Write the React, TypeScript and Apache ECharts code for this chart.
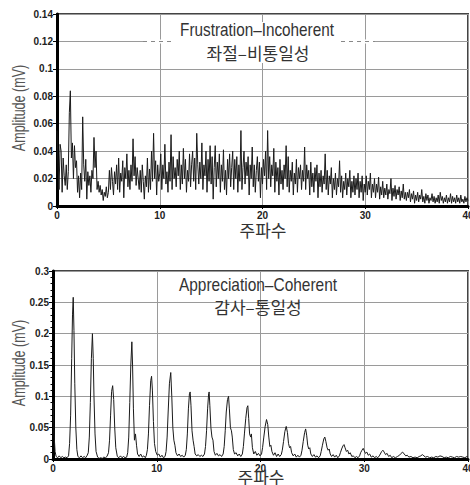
import React, { useEffect, useRef } from "react";
import * as echarts from "echarts";

// Top panel: amplitude sampled every 0.1 Hz from 0 to 40
const TOP_STEP = 0.1;
const topAmplitude = [
  0.055, 0.030, 0.012, 0.045, 0.040, 0.010, 0.035, 0.022, 0.015, 0.030,
  0.012, 0.025, 0.068, 0.084, 0.035, 0.046, 0.020, 0.044, 0.028, 0.033,
  0.010, 0.022, 0.006, 0.024, 0.012, 0.065, 0.030, 0.018, 0.034, 0.005,
  0.025, 0.015, 0.022, 0.010, 0.026, 0.020, 0.050, 0.028, 0.040, 0.012,
  0.018, 0.010, 0.015, 0.008, 0.012, 0.004, 0.010, 0.007, 0.014, 0.006,
  0.010, 0.026, 0.012, 0.028, 0.018, 0.008, 0.025, 0.016, 0.030, 0.012,
  0.035, 0.010, 0.024, 0.018, 0.033, 0.006, 0.028, 0.020, 0.038, 0.014,
  0.026, 0.012, 0.030, 0.018, 0.049, 0.022, 0.036, 0.015, 0.028, 0.020,
  0.012, 0.026, 0.010, 0.030, 0.018, 0.005, 0.022, 0.014, 0.035, 0.010,
  0.027, 0.012, 0.040, 0.018, 0.053, 0.020, 0.033, 0.008, 0.030, 0.018,
  0.024, 0.038, 0.012, 0.030, 0.020, 0.045, 0.016, 0.025, 0.010, 0.032,
  0.018, 0.052, 0.012, 0.036, 0.020, 0.028, 0.014, 0.034, 0.022, 0.040,
  0.012, 0.030, 0.016, 0.042, 0.020, 0.034, 0.010, 0.026, 0.018, 0.038,
  0.014, 0.030, 0.040, 0.018, 0.035, 0.012, 0.053, 0.030, 0.016, 0.032,
  0.020, 0.046, 0.012, 0.030, 0.022, 0.040, 0.010, 0.034, 0.018, 0.044,
  0.016, 0.036, 0.005, 0.028, 0.044, 0.014, 0.032, 0.020, 0.038, 0.010,
  0.030, 0.018, 0.041, 0.012, 0.026, 0.008, 0.034, 0.020, 0.038, 0.014,
  0.028, 0.040, 0.012, 0.034, 0.020, 0.036, 0.010, 0.030, 0.018, 0.055,
  0.012, 0.028, 0.040, 0.016, 0.032, 0.022, 0.036, 0.008, 0.030, 0.020,
  0.043, 0.014, 0.030, 0.010, 0.026, 0.036, 0.018, 0.032, 0.006, 0.028,
  0.016, 0.034, 0.022, 0.040, 0.012, 0.055, 0.020, 0.036, 0.014, 0.030,
  0.022, 0.042, 0.010, 0.032, 0.018, 0.028, 0.008, 0.034, 0.016, 0.026,
  0.012, 0.030, 0.020, 0.044, 0.014, 0.036, 0.010, 0.026, 0.018, 0.032,
  0.008, 0.024, 0.016, 0.034, 0.010, 0.028, 0.020, 0.030, 0.012, 0.026,
  0.018, 0.043, 0.012, 0.030, 0.020, 0.026, 0.008, 0.032, 0.014, 0.024,
  0.010, 0.028, 0.018, 0.030, 0.006, 0.024, 0.014, 0.026, 0.010, 0.022,
  0.016, 0.038, 0.012, 0.026, 0.008, 0.022, 0.016, 0.028, 0.006, 0.020,
  0.012, 0.024, 0.008, 0.020, 0.014, 0.033, 0.010, 0.022, 0.006, 0.018,
  0.012, 0.024, 0.008, 0.020, 0.014, 0.026, 0.006, 0.018, 0.010, 0.022,
  0.008, 0.020, 0.012, 0.024, 0.006, 0.018, 0.010, 0.022, 0.004, 0.016,
  0.010, 0.022, 0.008, 0.018, 0.012, 0.024, 0.006, 0.016, 0.010, 0.020,
  0.006, 0.016, 0.010, 0.021, 0.005, 0.014, 0.008, 0.018, 0.006, 0.013,
  0.008, 0.016, 0.005, 0.012, 0.009, 0.020, 0.004, 0.013, 0.007, 0.015,
  0.005, 0.012, 0.008, 0.014, 0.004, 0.011, 0.006, 0.016, 0.005, 0.010,
  0.004, 0.010, 0.006, 0.012, 0.003, 0.009, 0.005, 0.011, 0.002, 0.008,
  0.004, 0.010, 0.003, 0.008, 0.005, 0.012, 0.003, 0.007, 0.002, 0.009,
  0.004, 0.008, 0.002, 0.006, 0.004, 0.009, 0.003, 0.007, 0.002, 0.006,
  0.003, 0.008, 0.002, 0.010, 0.004, 0.007, 0.002, 0.006, 0.003, 0.008,
  0.002, 0.006, 0.003, 0.009, 0.002, 0.007, 0.003, 0.006, 0.002, 0.008,
  0.003, 0.006, 0.002, 0.008, 0.003, 0.005, 0.002, 0.007, 0.003, 0.006,
  0.004,
];

// Bottom panel: [frequency, amplitude] points
const bottomPoints: [number, number][] = [
  [0.0, 0.090], [0.05, 0.070], [0.1, 0.040], [0.2, 0.012], [0.3, 0.004], [0.45, 0.002],
  [0.6, 0.005], [0.75, 0.002], [0.9, 0.004], [1.05, 0.002], [1.2, 0.003], [1.35, 0.002],
  [1.5, 0.005], [1.6, 0.025], [1.7, 0.070], [1.8, 0.160], [1.88, 0.230], [1.95, 0.258],
  [2.02, 0.205], [2.1, 0.120], [2.2, 0.050], [2.3, 0.015], [2.4, 0.004], [2.55, 0.002],
  [2.7, 0.005], [2.85, 0.002], [3.0, 0.004], [3.15, 0.002], [3.3, 0.006],
  [3.4, 0.010], [3.5, 0.035], [3.6, 0.090], [3.7, 0.160], [3.8, 0.200], [3.88, 0.160],
  [3.95, 0.100], [4.05, 0.040], [4.15, 0.012], [4.3, 0.003], [4.45, 0.001], [4.6, 0.002],
  [4.75, 0.001], [4.9, 0.003], [5.05, 0.002], [5.2, 0.004],
  [5.35, 0.010], [5.45, 0.030], [5.55, 0.070], [5.65, 0.108], [5.75, 0.117], [5.85, 0.095],
  [5.95, 0.050], [6.05, 0.018], [6.2, 0.004], [6.35, 0.002], [6.5, 0.005], [6.65, 0.002],
  [6.8, 0.004], [6.95, 0.002], [7.1, 0.003],
  [7.2, 0.010], [7.3, 0.035], [7.4, 0.090], [7.5, 0.150], [7.6, 0.187], [7.67, 0.150],
  [7.75, 0.080], [7.85, 0.030], [7.95, 0.040], [8.05, 0.022], [8.15, 0.008], [8.3, 0.004],
  [8.45, 0.008], [8.6, 0.003], [8.75, 0.005], [8.9, 0.002], [9.0, 0.006],
  [9.1, 0.015], [9.2, 0.040], [9.3, 0.085], [9.42, 0.125], [9.5, 0.132], [9.58, 0.110],
  [9.68, 0.060], [9.78, 0.025], [9.9, 0.012], [10.05, 0.006], [10.2, 0.008], [10.35, 0.003],
  [10.5, 0.006], [10.65, 0.002], [10.8, 0.004],
  [10.9, 0.012], [11.0, 0.035], [11.1, 0.075], [11.22, 0.120], [11.35, 0.138], [11.45, 0.100],
  [11.55, 0.050], [11.65, 0.030], [11.75, 0.022], [11.85, 0.010], [12.0, 0.005], [12.15, 0.008],
  [12.3, 0.004], [12.45, 0.006], [12.6, 0.003], [12.75, 0.006],
  [12.85, 0.015], [12.95, 0.040], [13.05, 0.080], [13.15, 0.104], [13.22, 0.107], [13.3, 0.085],
  [13.4, 0.045], [13.5, 0.030], [13.6, 0.020], [13.7, 0.008], [13.85, 0.005], [14.0, 0.007],
  [14.15, 0.004], [14.3, 0.006], [14.45, 0.004], [14.6, 0.008],
  [14.7, 0.020], [14.8, 0.045], [14.9, 0.080], [15.0, 0.104], [15.05, 0.107], [15.12, 0.085],
  [15.22, 0.050], [15.32, 0.035], [15.42, 0.030], [15.52, 0.012], [15.65, 0.006], [15.8, 0.009],
  [15.95, 0.005], [16.1, 0.007], [16.25, 0.004], [16.4, 0.008],
  [16.5, 0.020], [16.6, 0.045], [16.7, 0.075], [16.82, 0.095], [16.92, 0.100], [17.0, 0.080],
  [17.1, 0.050], [17.2, 0.045], [17.28, 0.035], [17.38, 0.015], [17.5, 0.008], [17.65, 0.010],
  [17.8, 0.005], [17.95, 0.008], [18.1, 0.004], [18.25, 0.008],
  [18.35, 0.020], [18.45, 0.040], [18.58, 0.065], [18.7, 0.082], [18.78, 0.085], [18.86, 0.065],
  [18.95, 0.040], [19.05, 0.035], [19.12, 0.040], [19.22, 0.018], [19.35, 0.008], [19.5, 0.012],
  [19.65, 0.006], [19.8, 0.009], [19.95, 0.005], [20.1, 0.008],
  [20.2, 0.018], [20.32, 0.035], [20.45, 0.052], [20.58, 0.063], [20.7, 0.055], [20.8, 0.035],
  [20.9, 0.020], [21.0, 0.022], [21.1, 0.012], [21.25, 0.006], [21.4, 0.010], [21.55, 0.004],
  [21.7, 0.008], [21.85, 0.004], [22.0, 0.007],
  [22.1, 0.014], [22.22, 0.028], [22.35, 0.044], [22.48, 0.052], [22.6, 0.042], [22.7, 0.025],
  [22.8, 0.018], [22.9, 0.020], [23.0, 0.010], [23.15, 0.005], [23.3, 0.008], [23.45, 0.003],
  [23.6, 0.006], [23.75, 0.003], [23.9, 0.006],
  [24.0, 0.014], [24.12, 0.028], [24.25, 0.042], [24.35, 0.048], [24.45, 0.038], [24.55, 0.022],
  [24.65, 0.016], [24.75, 0.018], [24.85, 0.008], [25.0, 0.004], [25.15, 0.007], [25.3, 0.003],
  [25.45, 0.005], [25.6, 0.002], [25.75, 0.005],
  [25.85, 0.012], [25.97, 0.022], [26.1, 0.032], [26.2, 0.035], [26.3, 0.028], [26.42, 0.018],
  [26.52, 0.014], [26.62, 0.016], [26.72, 0.008], [26.85, 0.004], [27.0, 0.007], [27.15, 0.003],
  [27.3, 0.006], [27.45, 0.002], [27.6, 0.005],
  [27.7, 0.010], [27.82, 0.016], [27.95, 0.021], [28.05, 0.023], [28.15, 0.018], [28.28, 0.012],
  [28.4, 0.014], [28.52, 0.008], [28.65, 0.010], [28.8, 0.004], [28.95, 0.005], [29.1, 0.002],
  [29.25, 0.004], [29.4, 0.002], [29.55, 0.005],
  [29.65, 0.010], [29.78, 0.014], [29.9, 0.017], [30.0, 0.013], [30.12, 0.009], [30.25, 0.011],
  [30.38, 0.006], [30.52, 0.008], [30.68, 0.003], [30.85, 0.005], [31.0, 0.002], [31.15, 0.004],
  [31.3, 0.002], [31.45, 0.005],
  [31.55, 0.008], [31.68, 0.012], [31.8, 0.014], [31.92, 0.011], [32.05, 0.007], [32.2, 0.009],
  [32.35, 0.004], [32.5, 0.006], [32.65, 0.002], [32.8, 0.004], [33.0, 0.002], [33.2, 0.004],
  [33.4, 0.006], [33.55, 0.009], [33.7, 0.011], [33.85, 0.008], [34.0, 0.005], [34.15, 0.006],
  [34.3, 0.003], [34.5, 0.004], [34.7, 0.002], [34.9, 0.003], [35.1, 0.002], [35.3, 0.004],
  [35.45, 0.005], [35.6, 0.007], [35.75, 0.005], [35.9, 0.003], [36.1, 0.004], [36.3, 0.002],
  [36.5, 0.003], [36.7, 0.002], [36.9, 0.004], [37.1, 0.003], [37.3, 0.005], [37.5, 0.004],
  [37.7, 0.002], [37.9, 0.003], [38.1, 0.002], [38.3, 0.004], [38.5, 0.003], [38.7, 0.002],
  [38.9, 0.004], [39.1, 0.003], [39.3, 0.004], [39.5, 0.003], [39.7, 0.002], [39.9, 0.004],
  [40.0, 0.003],
];

const topTitle = ["Frustration–Incoherent", "좌절–비통일성"];
const bottomTitle = ["Appreciation–Coherent", "감사–통일성"];
const xAxisName = "주파수";
const yAxisName = "Amplitude (mV)";
const topYMax = 0.14;
const topYInterval = 0.02;
const bottomYMax = 0.3;
const bottomYInterval = 0.05;
const xMax = 40;
const xInterval = 10;

const SANS = "'Liberation Sans', Arial, sans-serif";
const KR = "'Noto Sans CJK KR', 'Noto Sans', sans-serif";

function xAxisCfg(gridIndex: number) {
  return {
    type: "value",
    gridIndex,
    min: 0,
    max: xMax,
    interval: xInterval,
    axisLine: { show: true, onZero: false, lineStyle: { color: "#000", width: 3 } },
    axisTick: { show: true, length: 3, lineStyle: { color: "#000" } },
    axisLabel: { fontFamily: SANS, fontWeight: "bold", fontSize: 10, color: "#222", margin: 4 },
    splitLine: { show: true, lineStyle: { color: "#9a9a9a", width: 1 } },
  };
}

function yAxisCfg(gridIndex: number, max: number, interval: number, minor: boolean) {
  return {
    type: "value",
    gridIndex,
    min: 0,
    max,
    interval,
    axisLine: { show: true, onZero: false, lineStyle: { color: "#000", width: 3 } },
    axisTick: { show: true, length: 4, lineStyle: { color: "#000" } },
    minorTick: { show: minor, splitNumber: 5, length: 2.5, lineStyle: { color: "#000" } },
    axisLabel: { fontFamily: SANS, fontWeight: "bold", fontSize: 10, color: "#222", margin: 4 },
    splitLine: { show: true, lineStyle: { color: "#9a9a9a", width: 1 } },
  };
}

export default function App() {
  const ref = useRef<HTMLDivElement>(null);
  useEffect(() => {
    if (!ref.current) return;
    const chart = echarts.init(ref.current, null, { renderer: "svg" });
    const topData = topAmplitude.map((v, i) => [+(i * TOP_STEP).toFixed(1), v]);
    const textEl = (
      text: string, x: number, y: number, font: string, size: number,
      scaleX: number, fill: string, rotation = 0,
    ) => ({
      type: "text",
      x,
      y,
      z: 10,
      rotation,
      scaleX,
      style: {
        text,
        fill,
        font: `${size}px ${font}`,
        textAlign: "center",
        textVerticalAlign: "middle",
      },
    });
    chart.setOption({
      animation: false,
      backgroundColor: "#fff",
      grid: [
        { left: 57, top: 14, width: 411, height: 192, show: true, borderColor: "#444", borderWidth: 2, backgroundColor: "transparent", outerBoundsMode: "none", containLabel: false },
        { left: 53, top: 271, width: 415, height: 188, show: true, borderColor: "#444", borderWidth: 2, backgroundColor: "transparent", outerBoundsMode: "none", containLabel: false },
      ],
      xAxis: [xAxisCfg(0), xAxisCfg(1)],
      yAxis: [
        yAxisCfg(0, topYMax, topYInterval, false),
        yAxisCfg(1, bottomYMax, bottomYInterval, true),
      ],
      series: [
        {
          type: "line",
          xAxisIndex: 0,
          yAxisIndex: 0,
          data: topData,
          showSymbol: false,
          lineStyle: { color: "#1a1a1a", width: 1 },
          z: 3,
        },
        {
          type: "line",
          xAxisIndex: 1,
          yAxisIndex: 1,
          data: bottomPoints,
          showSymbol: false,
          lineStyle: { color: "#1a1a1a", width: 1 },
          z: 3,
        },
      ],
      graphic: [
        { type: "rect", z: 5, shape: { x: 143, y: 39.5, width: 232, height: 4 }, style: { fill: "#fff" } },
        { type: "rect", z: 5, shape: { x: 175, y: 22, width: 166, height: 41 }, style: { fill: "#fff" } },
        { type: "line", z: 6, shape: { x1: 143, y1: 41.5, x2: 175, y2: 41.5 }, style: { stroke: "#888", lineWidth: 1, lineDash: [4, 4] } },
        { type: "line", z: 6, shape: { x1: 341, y1: 41.5, x2: 375, y2: 41.5 }, style: { stroke: "#888", lineWidth: 1, lineDash: [4, 4] } },
        textEl(topTitle[0], 257, 30, SANS, 18, 0.85, "#333"),
        textEl(topTitle[1], 258, 52, KR, 17, 1, "#333"),
        textEl(bottomTitle[0], 258, 285, SANS, 18, 0.86, "#333"),
        textEl(bottomTitle[1], 258, 306, KR, 17, 1, "#333"),
        textEl(yAxisName, 18, 108, SANS, 19, 0.66, "#555", Math.PI / 2),
        textEl(yAxisName, 18, 363, SANS, 19, 0.66, "#555", Math.PI / 2),
        textEl(xAxisName, 263, 229, KR, 17, 1, "#333"),
        textEl(xAxisName, 261, 476, KR, 17, 1, "#333"),
      ],
    });
    return () => chart.dispose();
  }, []);
  return (
    <div
      ref={ref}
      style={{ position: "fixed", left: 0, top: 0, width: 470, height: 485, background: "#fff" }}
    />
  );
}
